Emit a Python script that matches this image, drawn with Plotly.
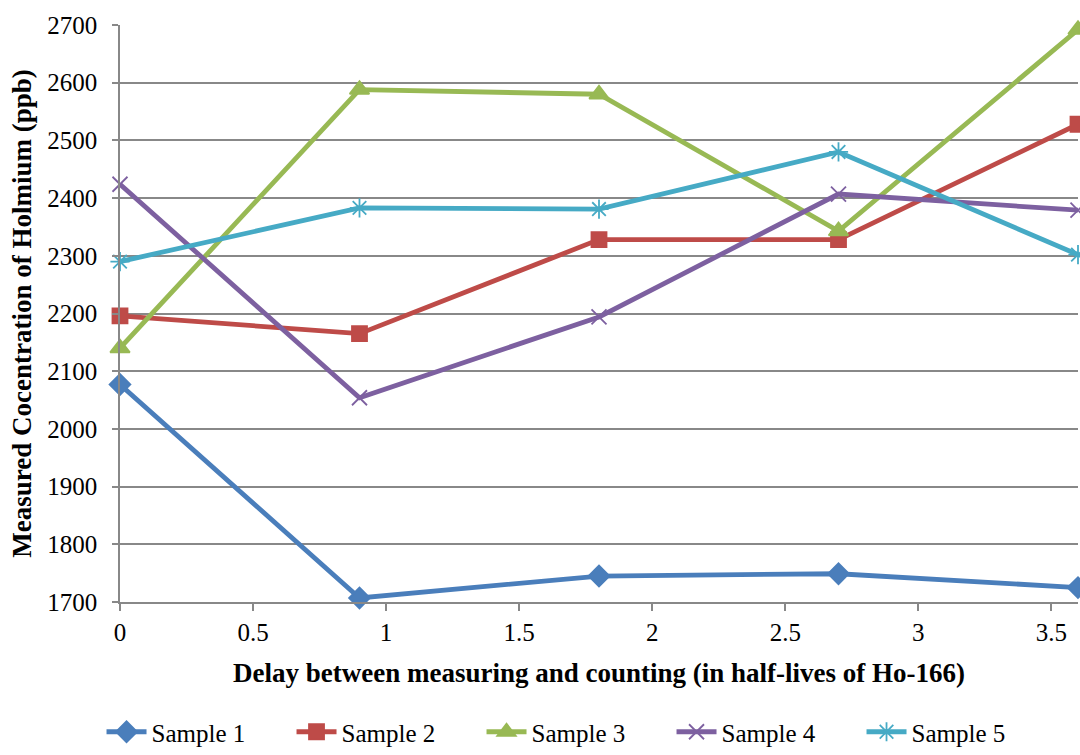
import plotly.graph_objects as go

x_delay = [0, 0.9, 1.8, 2.7, 3.6]
series_names = ["Sample 1", "Sample 2", "Sample 3", "Sample 4", "Sample 5"]
sample1 = [2077, 1707, 1745, 1749, 1725]
sample2 = [2196, 2165, 2328, 2328, 2528]
sample3 = [2140, 2588, 2580, 2343, 2692]
sample4 = [2424, 2054, 2194, 2407, 2379]
sample5 = [2290, 2383, 2381, 2480, 2302]
y_ticks = [1700, 1800, 1900, 2000, 2100, 2200, 2300, 2400, 2500, 2600, 2700]
x_ticks = [0, 0.5, 1, 1.5, 2, 2.5, 3, 3.5]

colors = ["#4A7EBB", "#BE4B48", "#98B954", "#7D60A0", "#46AAC5"]
symbols = ["diamond", "square", "triangle-up", "x-thin-open", "asterisk-open"]
sizes = [16, 15, 17, 15, 16]

fig = go.Figure()
for name, ys, c, s, sz in zip(series_names, [sample1, sample2, sample3, sample4, sample5], colors, symbols, sizes):
    fig.add_trace(go.Scatter(
        x=x_delay, y=ys, name=name, mode="lines+markers",
        line=dict(color=c, width=4.8),
        marker=dict(symbol=s, size=sz, color=c, line=dict(color=c, width=1.8)),
        cliponaxis=False,
    ))

font_family = "Times New Roman, Liberation Serif, serif"
fig.update_layout(
    width=1080, height=755,
    margin=dict(l=120, r=2, t=25, b=153, autoexpand=False),
    plot_bgcolor="white", paper_bgcolor="white",
    font=dict(family=font_family, size=25, color="black"),
    showlegend=True,
    legend=dict(orientation="h", xref="container", x=0.094, xanchor="left",
                yref="container", y=-0.03, yanchor="bottom",
                font=dict(size=25, family=font_family), entrywidth=135, itemwidth=40,
                tracegroupgap=0),
)
fig.update_xaxes(
    range=[0, 3.6], tickvals=x_ticks, ticktext=[str(v) for v in x_ticks],
    showgrid=False, zeroline=False, showline=True, linecolor="#888888", linewidth=1.5,
    ticks="outside", ticklen=7, tickcolor="#888888", tickwidth=1.5,
    tickfont=dict(size=25, family=font_family),
    title=dict(text="<b>Delay between measuring and counting (in half-lives of Ho-166)</b>",
               font=dict(size=27, family=font_family), standoff=18),
)
fig.update_yaxes(
    range=[1700, 2700], tickvals=y_ticks,
    showgrid=True, gridcolor="#888888", gridwidth=1.5, zeroline=False,
    showline=True, linecolor="#888888", linewidth=1.5,
    ticks="outside", ticklen=6, tickcolor="#888888", tickwidth=1.5,
    ticklabelstandoff=10,
    tickfont=dict(size=25, family=font_family),
    title=dict(text="<b>Measured Cocentration of Holmium (ppb)</b>",
               font=dict(size=27, family=font_family), standoff=8),
)
fig.write_html("out.html")
